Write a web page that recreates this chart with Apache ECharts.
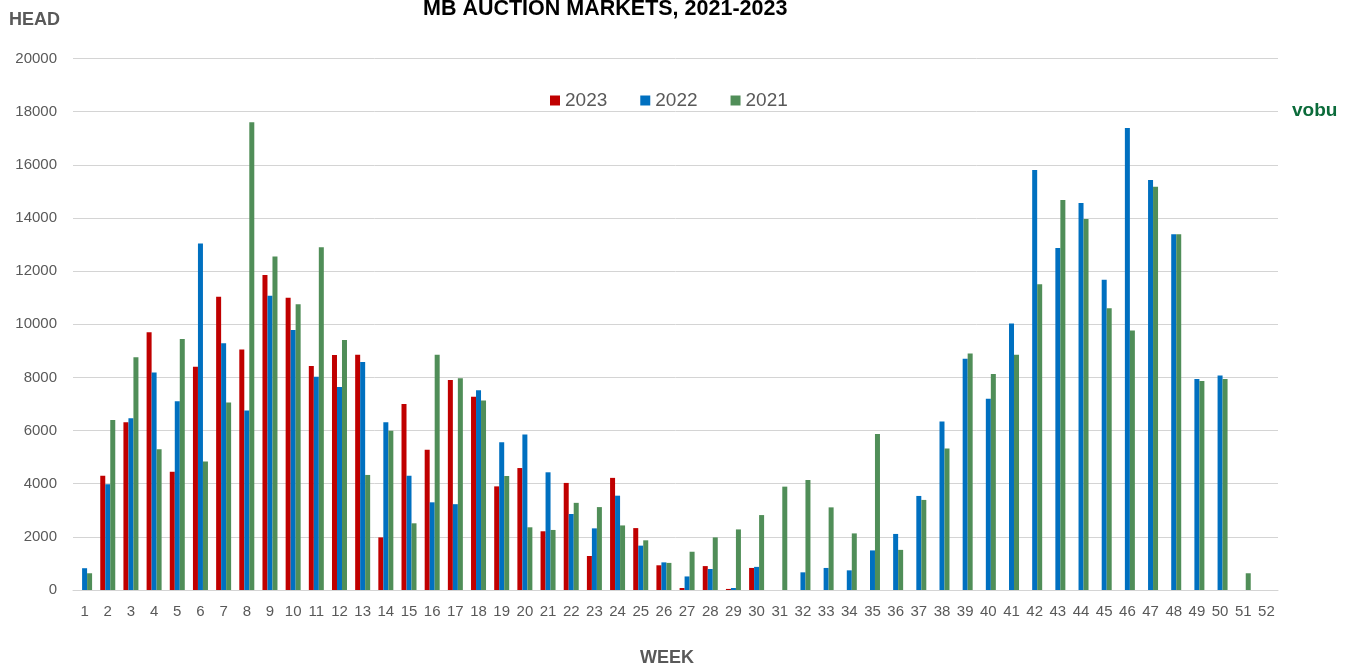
<!DOCTYPE html>
<html>
<head>
<meta charset="utf-8">
<script src="https://cdn.jsdelivr.net/npm/echarts@6/dist/echarts.min.js"></script>
<style>
html,body{margin:0;padding:0;background:#fff;}
#chart{width:1357px;height:667px;}
</style>
</head>
<body>
<div id="chart"></div>
<script>
const weeks = Array.from({length: 52}, (_, i) => String(i + 1));
const yTicks = [0, 2000, 4000, 6000, 8000, 10000, 12000, 14000, 16000, 18000, 20000];
const seriesNames = ['2023', '2022', '2021'];
const head2023 = [null,4300,6310,9700,4450,8400,11040,9050,11860,11000,8430,8840,8850,1980,7000,5280,7900,7270,3900,4590,2210,4030,1280,4220,2330,930,75,900,40,830,
  null,null,null,null,null,null,null,null,null,null,null,null,null,null,null,null,null,null,null,null,null,null];
const head2022 = [820,3980,6460,8190,7100,13040,9290,6760,11070,9790,8030,7640,8580,6310,4300,3300,3230,7520,5560,5850,4430,2860,2320,3550,1670,1040,510,790,75,870,
  null,665,830,740,1490,2110,3540,6340,8700,7200,10030,15810,12870,14570,11680,17390,15430,13390,7940,8070,null,null];
const head2021 = [630,6400,8760,5300,9450,4840,7060,17600,12550,10750,12900,9410,4330,5990,2510,8850,7970,7130,4290,2360,2260,3280,3120,2430,1870,1020,1440,1980,2280,2820,
  3890,4140,3110,2130,5870,1510,3390,5330,8900,8130,8850,11510,14680,13960,10600,9770,15180,13390,7870,7940,630,null];

const colors = ['#C00000', '#0070C0', '#508E58'];
const FONT = '"Liberation Sans", Arial, sans-serif';
const dataSets = [head2023, head2022, head2021];

const chart = echarts.init(document.getElementById('chart'), null, {renderer: 'canvas'});
chart.setOption({
  animation: false,
  backgroundColor: '#ffffff',
  color: colors,
  textStyle: {fontFamily: FONT},
  grid: {left: 73, right: 79, top: 58.6, bottom: 77, containLabel: false},
  legend: {
    data: seriesNames,
    left: 545,
    top: 86,
    itemWidth: 10,
    itemHeight: 10,
    itemGap: 33,
    icon: 'rect',
    textStyle: {fontSize: 19, color: '#595959', fontFamily: FONT, padding: [0, 0, 0, 0]}
  },
  xAxis: {
    type: 'category',
    data: weeks,
    axisLine: {show: true, lineStyle: {color: '#d4d4d4', width: 1}},
    axisTick: {show: false},
    axisLabel: {interval: 0, fontSize: 15, color: '#595959', margin: 14, fontFamily: FONT},
    splitLine: {show: false}
  },
  yAxis: {
    type: 'value',
    min: yTicks[0],
    max: yTicks[yTicks.length - 1],
    interval: 2000,
    axisLine: {show: false},
    axisTick: {show: false},
    axisLabel: {fontSize: 15, color: '#595959', margin: 16, fontFamily: FONT, formatter: v => String(v)},
    splitLine: {lineStyle: {color: '#d4d4d4', width: 1}}
  },
  series: seriesNames.map((name, i) => ({
    name: name,
    type: 'bar',
    data: dataSets[i],
    barWidth: 5,
    barGap: '0%',
    itemStyle: {color: colors[i]}
  })),
  graphic: [
    {type: 'text', left: 423, top: -2, style: {text: 'MB AUCTION MARKETS, 2021-2023', font: 'bold 21.5px ' + FONT, fill: '#000000'}},
    {type: 'text', left: 9, top: 11, style: {text: 'HEAD', font: 'bold 18px ' + FONT, fill: '#595959'}},
    {type: 'text', left: 640, top: 649, style: {text: 'WEEK', font: 'bold 18px ' + FONT, fill: '#595959'}},
    {type: 'text', left: 1292, top: 101, style: {text: 'vobu', font: 'bold 19px ' + FONT, fill: '#0B6B3A'}}
  ]
});
</script>
</body>
</html>
